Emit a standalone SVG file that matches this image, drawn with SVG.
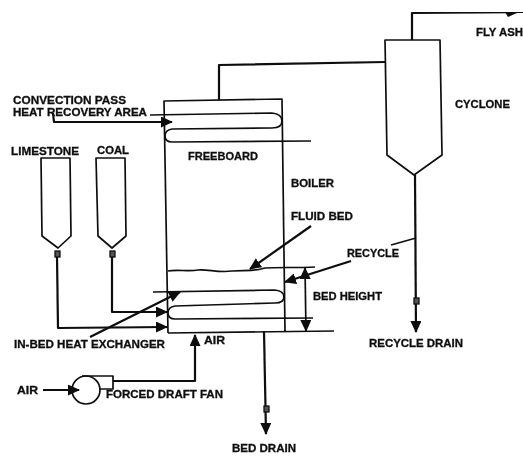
<svg xmlns="http://www.w3.org/2000/svg" width="523" height="456" viewBox="0 0 523 456">
<style>
text{font-family:"Liberation Sans",Arial,sans-serif;font-weight:bold;font-size:10.5px;fill:#111;stroke:#111;stroke-width:.3}
.l{fill:none;stroke:#111;stroke-width:1.7;stroke-linejoin:round}
.t{stroke-width:2.2;stroke:#0c0c0c}
.v{fill:#555;stroke:#111;stroke-width:1.3}
</style>
<defs>
<marker id="a" viewBox="0 0 12 11" refX="11" refY="5.5" markerWidth="12" markerHeight="11" markerUnits="userSpaceOnUse" orient="auto-start-reverse"><path d="M0 0L12 5.5L0 11Z" fill="#0c0c0c"/></marker>
<filter id="s" x="0" y="0" width="100%" height="100%"><feGaussianBlur stdDeviation="0.45"/></filter>
</defs>
<rect width="523" height="456" fill="#fff"/>
<g filter="url(#s)">
<g id="boiler">
<path class="l" d="M168 333L164 101L282 99L285 331M168 333L334 331"/>
<path class="l" d="M150 115L272 113Q282 114 282 121Q282 128 272 128L172 129Q165 130 165 136Q165 142 172 142L311 141"/>
<path class="l" d="M153 292L275 290Q284 291 284 297Q284 303 275 303L175 306Q168 307 168 313Q168 319 175 319L313 318"/>
<path class="l" d="M168 271C178 269 188 272 198 270C208 269 218 273 232 271C245 270 252 272 265 268C280 267 295 268 315 267"/>
<text x="188" y="160" textLength="70" lengthAdjust="spacingAndGlyphs">FREEBOARD</text>
<text x="291" y="187" textLength="43" lengthAdjust="spacingAndGlyphs">BOILER</text>
</g>
<g id="cyclone">
<path class="l" d="M385 40L440 40L442 155L414 175L387 155Z"/>
<text x="455" y="108" textLength="55" lengthAdjust="spacingAndGlyphs">CYCLONE</text>
</g>
<g id="limestone-hopper">
<path class="l" d="M41 158L70 158L71 236L58 248L42 236Z"/>
<rect class="v" x="55" y="251" width="5" height="6"/>
<text x="11" y="155" textLength="68" lengthAdjust="spacingAndGlyphs">LIMESTONE</text>
</g>
<g id="coal-hopper">
<path class="l" d="M96 158L125 158L126 236L112 248L98 236Z"/>
<rect class="v" x="110" y="251" width="5" height="6"/>
<text x="97" y="154" textLength="32" lengthAdjust="spacingAndGlyphs">COAL</text>
</g>
<g id="fan">
<circle class="l" cx="86" cy="390" r="14"/>
<path class="l" d="M82 376L113 376L113 389L99 389"/>
<text x="106" y="398" textLength="117" lengthAdjust="spacingAndGlyphs">FORCED DRAFT FAN</text>
</g>
<g id="connectors">
<path class="l t" d="M219 100L219 65L385 62"/>
<path class="l t" d="M412 40L412 13L523 12"/>
<path d="M505 12L519 12L508 17Z" fill="#0c0c0c"/>
<path class="l t" d="M415 175L416 332" marker-end="url(#a)"/>
<rect class="v" x="414" y="298" width="5" height="6"/>
<path class="l" d="M416 238L391 245"/>
<path class="l t" d="M351 261L285 282" marker-end="url(#a)"/>
<path class="l" d="M305 268L306 331" marker-start="url(#a)" marker-end="url(#a)"/>
<path class="l t" d="M311 226L250 269" marker-end="url(#a)"/>
<path class="l t" d="M53 113L54 122L172 122" marker-end="url(#a)"/>
<path class="l t" d="M57 257L58 328L167 327" marker-end="url(#a)"/>
<path class="l t" d="M112 257L112 312L167 312" marker-end="url(#a)"/>
<path class="l t" d="M90 337L180 292" marker-end="url(#a)"/>
<path class="l t" d="M113 381L195 381L195 335" marker-end="url(#a)"/>
<path class="l t" d="M43 390L79 390" marker-end="url(#a)"/>
<path class="l t" d="M264 331L266 434" marker-end="url(#a)"/>
<rect class="v" x="264" y="406" width="5" height="6"/>
</g>
<g id="labels">
<text x="13" y="104" textLength="113" lengthAdjust="spacingAndGlyphs">CONVECTION PASS</text>
<text x="13" y="116" textLength="134" lengthAdjust="spacingAndGlyphs">HEAT RECOVERY AREA</text>
<text x="476" y="36" textLength="47" lengthAdjust="spacingAndGlyphs">FLY ASH</text>
<text x="291" y="220" textLength="62" lengthAdjust="spacingAndGlyphs">FLUID BED</text>
<text x="347" y="257" textLength="52" lengthAdjust="spacingAndGlyphs">RECYCLE</text>
<text x="313" y="300" textLength="69" lengthAdjust="spacingAndGlyphs">BED HEIGHT</text>
<text x="369" y="347" textLength="94" lengthAdjust="spacingAndGlyphs">RECYCLE DRAIN</text>
<text x="14" y="348" textLength="151" lengthAdjust="spacingAndGlyphs">IN-BED HEAT EXCHANGER</text>
<text x="204" y="344" textLength="21" lengthAdjust="spacingAndGlyphs">AIR</text>
<text x="17" y="394" textLength="21" lengthAdjust="spacingAndGlyphs">AIR</text>
<text x="232" y="452" textLength="64" lengthAdjust="spacingAndGlyphs">BED DRAIN</text>
</g>
</g>
</svg>
